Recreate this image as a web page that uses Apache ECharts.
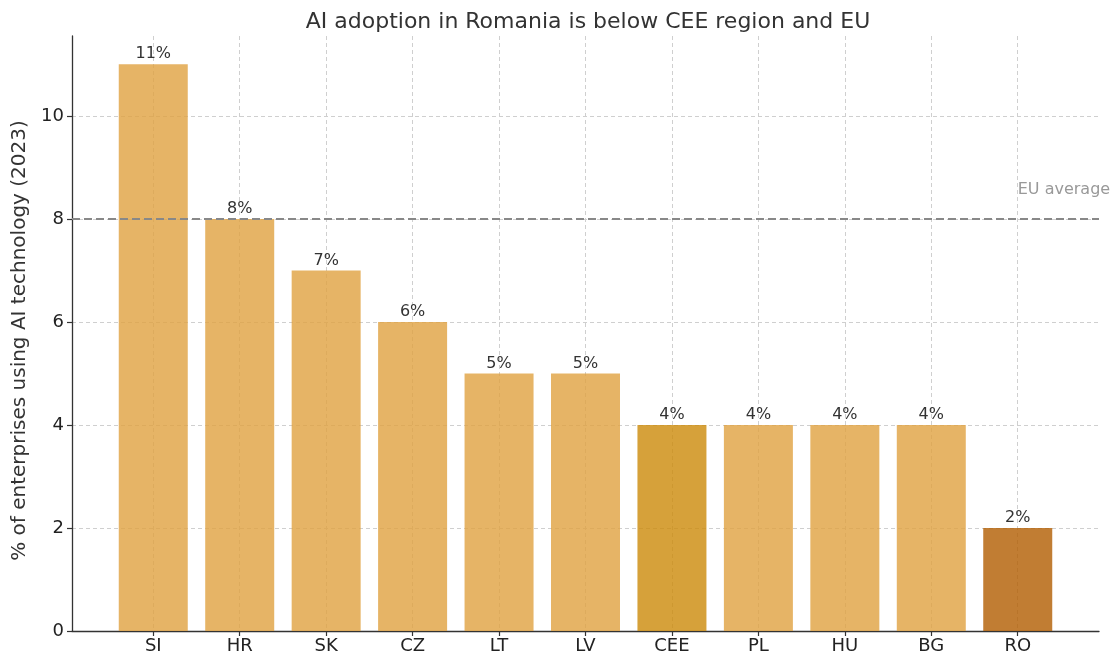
<!DOCTYPE html>
<html>
<head>
<meta charset="utf-8">
<script src="https://cdn.jsdelivr.net/npm/echarts@6/dist/echarts.min.js"></script>
<style>
html,body{margin:0;padding:0;background:#fff;}
#chart{width:1118px;height:655px;}
</style>
</head>
<body>
<div id="chart"></div>
<script>
const categories = ['SI', 'HR', 'SK', 'CZ', 'LT', 'LV', 'CEE', 'PL', 'HU', 'BG', 'RO'];
const values = [11, 8, 7, 6, 5, 5, 4, 4, 4, 4, 2];
const euAverage = 8;
const yTicks = [0, 2, 4, 6, 8, 10];
const titleText = 'AI adoption in Romania is below CEE region and EU';
const yAxisTitle = '% of enterprises using AI technology (2023)';
const euLabel = 'EU average';

const FONT = 'DejaVu Sans';
const baseColor = 'rgba(224,161,64,0.8)';
const ceeColor = 'rgba(204,138,9,0.8)';
const roColor = 'rgba(178,93,0,0.8)';

const xIdx = categories.map((c, i) => i);
const barData = categories.map((c, i) => ({
  value: [i, values[i]],
  itemStyle: { color: c === 'CEE' ? ceeColor : (c === 'RO' ? roColor : baseColor) }
}));

const chart = echarts.init(document.getElementById('chart'), null, { renderer: 'canvas' });
chart.setOption({
  animation: false,
  backgroundColor: '#fff',
  title: {
    text: titleText,
    left: 583,
    textAlign: 'center',
    top: 6,
    textStyle: { fontFamily: FONT, fontSize: 22, fontWeight: 'normal', color: '#333' }
  },
  grid: { left: 72, right: 19, top: 36, bottom: 21, containLabel: false },
  xAxis: {
    type: 'value',
    min: -0.94,
    max: categories.length - 1 + 0.94,
    axisLine: { show: true, onZero: false, lineStyle: { color: '#333', width: 1.3 } },
    axisTick: { show: true, customValues: xIdx, length: 5, lineStyle: { color: '#333', width: 1.2 } },
    axisLabel: {
      customValues: xIdx,
      formatter: v => categories[Math.round(v)] || '',
      fontFamily: FONT, fontSize: 18, color: '#222', margin: 6
    },
    splitLine: { show: true, lineStyle: { color: '#cfcfcf', type: [4, 3], width: 1 } }
  },
  yAxis: {
    type: 'value',
    min: 0,
    max: 11.55,
    name: yAxisTitle,
    nameLocation: 'middle',
    nameGap: 39,
    nameTextStyle: { fontFamily: FONT, fontSize: 20, color: '#333', padding: [0, 14, 0, 0] },
    axisLine: { show: true, onZero: false, lineStyle: { color: '#333', width: 1.3 } },
    axisTick: { show: true, customValues: yTicks, length: 5, lineStyle: { color: '#333', width: 1.2 } },
    axisLabel: { customValues: yTicks, fontFamily: FONT, fontSize: 18, color: '#222', margin: 8 },
    splitLine: { show: true, lineStyle: { color: '#cfcfcf', type: [4, 3], width: 1 } }
  },
  series: [{
    type: 'bar',
    data: barData,
    barWidth: 69,
    label: {
      show: true,
      position: 'top',
      distance: 2,
      formatter: p => p.value[1] + '%',
      fontFamily: FONT, fontSize: 16, color: '#333'
    },
    markLine: {
      silent: true,
      symbol: 'none',
      label: { show: false },
      lineStyle: { color: '#888', type: [8, 4], width: 2 },
      data: [{ yAxis: euAverage }]
    },
    markPoint: {
      silent: true,
      symbol: 'circle',
      symbolSize: 0,
      label: {
        show: true,
        position: 'inside',
        align: 'left',
        verticalAlign: 'bottom',
        formatter: euLabel,
        fontFamily: FONT, fontSize: 16, color: '#999'
      },
      data: [{ coord: [categories.length - 1, 8.4] }]
    }
  }]
});
</script>
</body>
</html>
